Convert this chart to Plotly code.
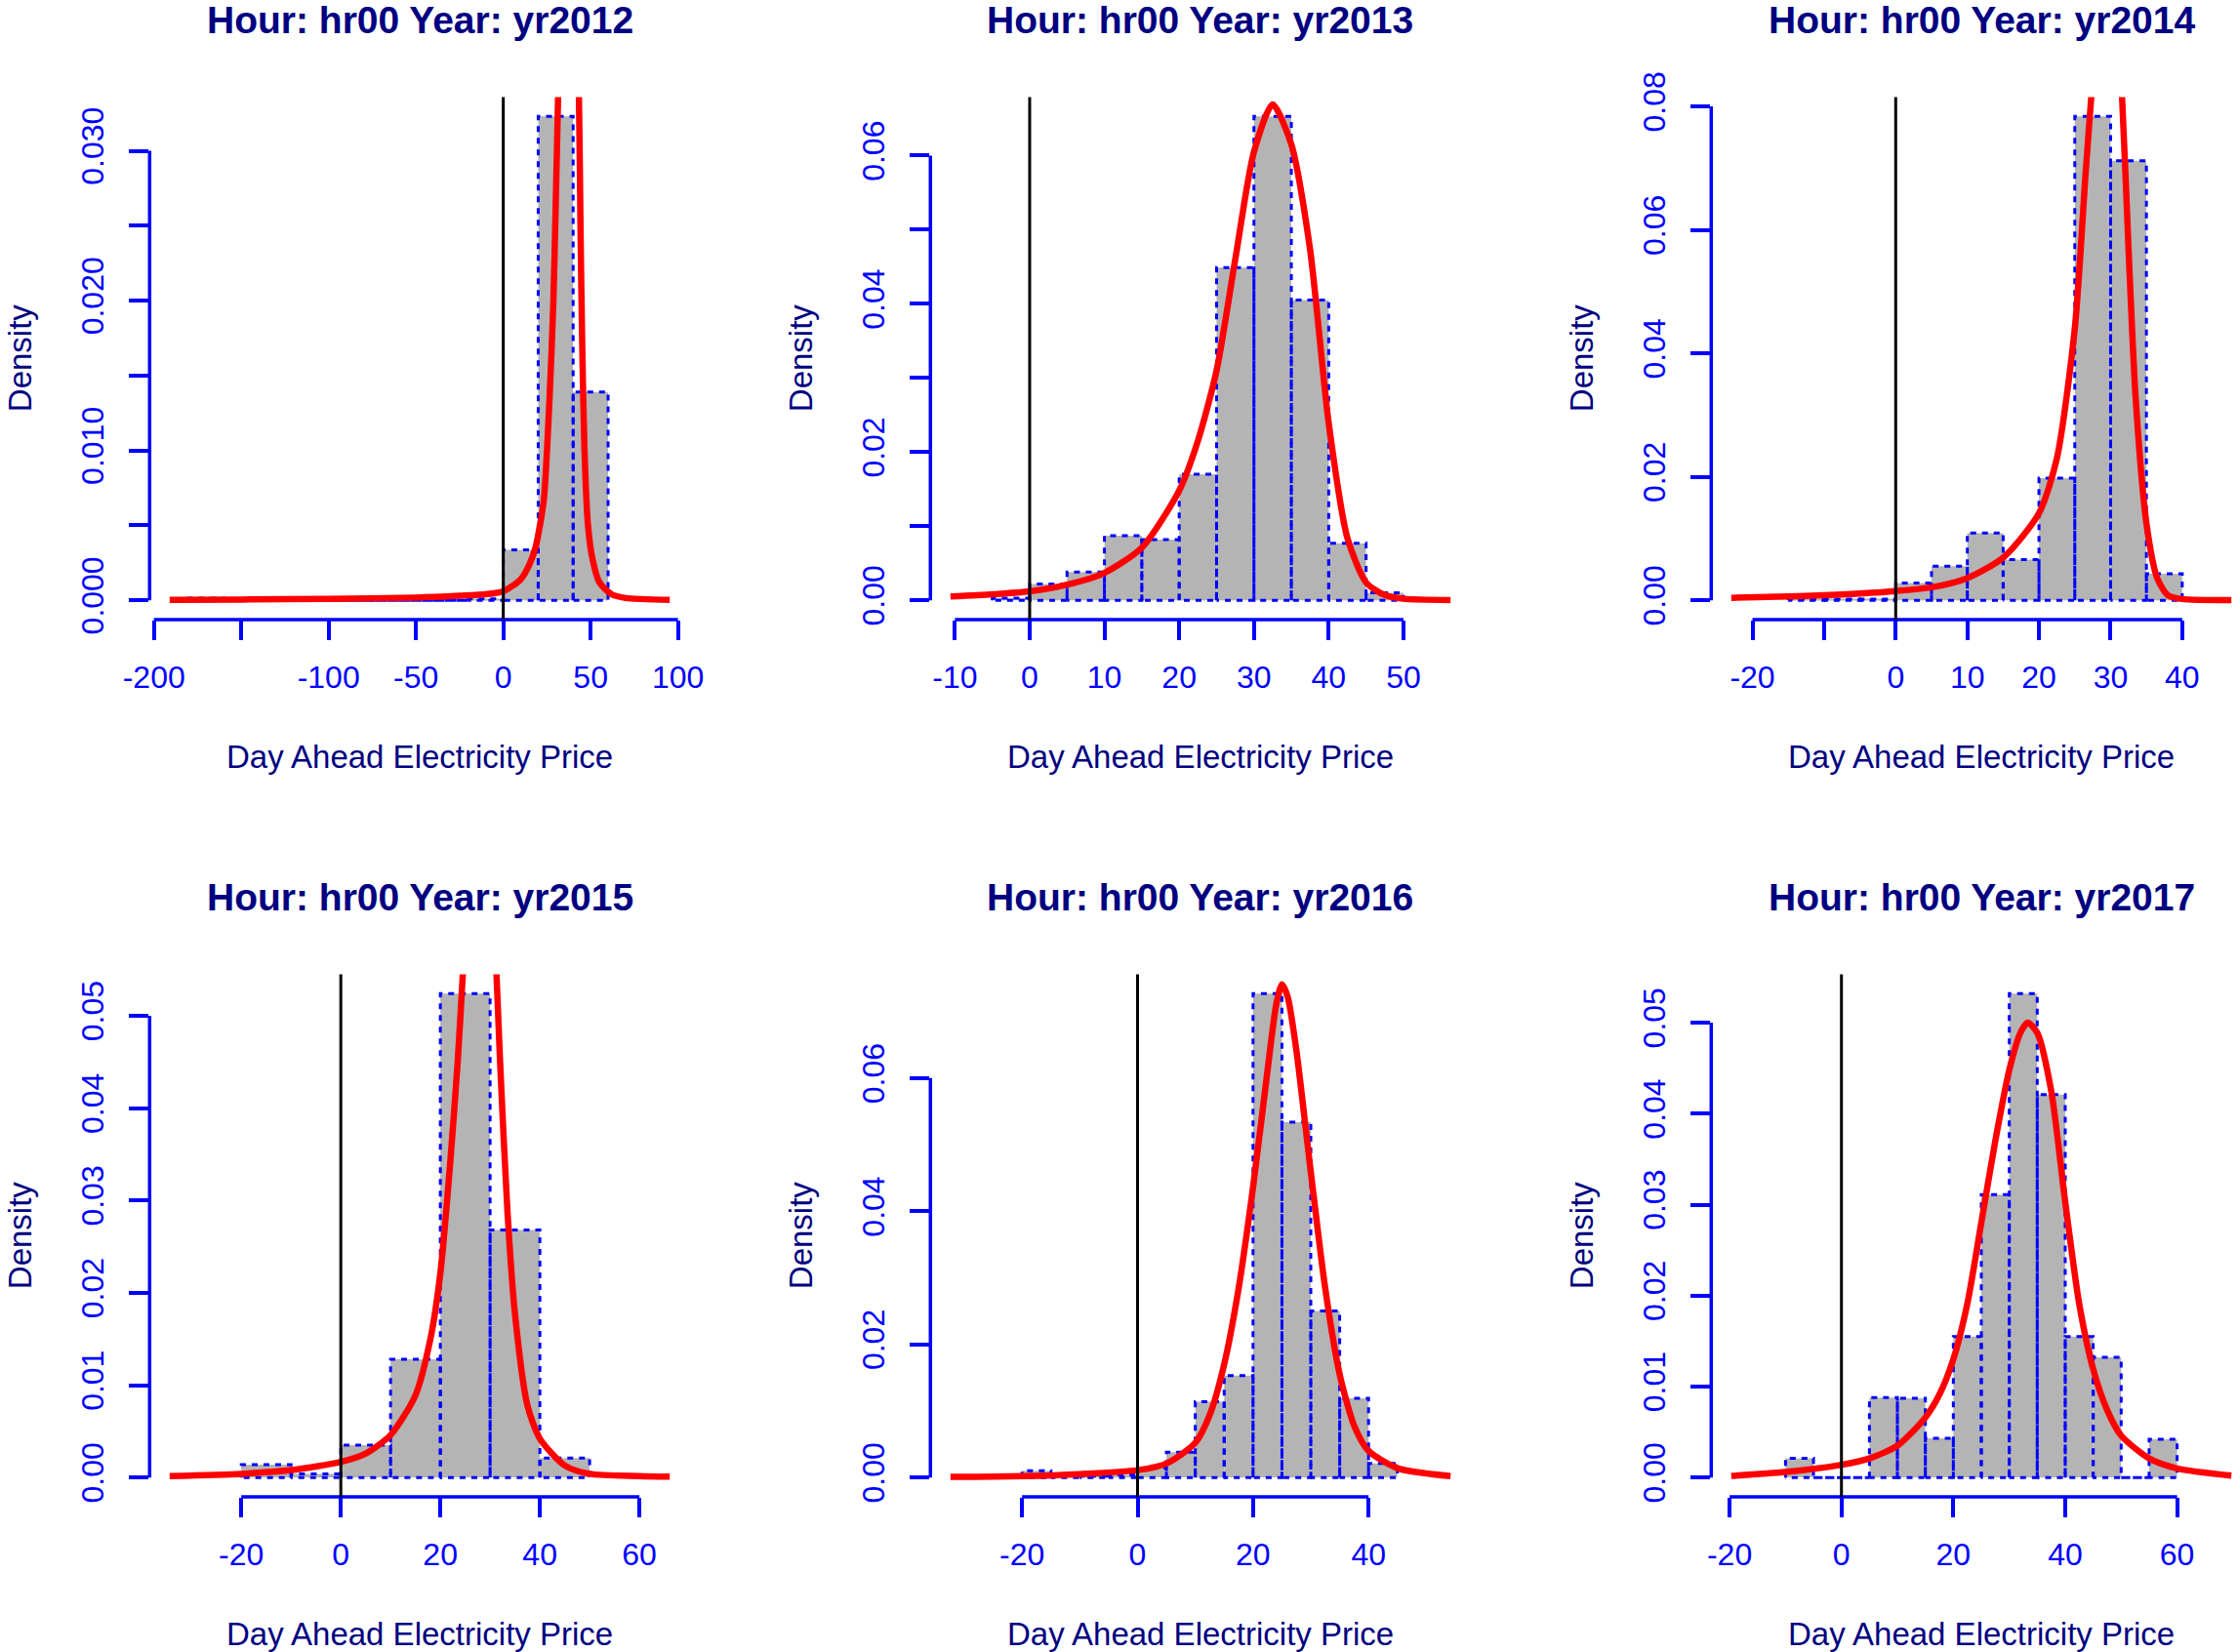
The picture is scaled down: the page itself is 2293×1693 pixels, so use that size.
import plotly.graph_objects as go

# ---------------- data ----------------
titles = ["Hour: hr00 Year: yr2012", "Hour: hr00 Year: yr2013", "Hour: hr00 Year: yr2014",
          "Hour: hr00 Year: yr2015", "Hour: hr00 Year: yr2016", "Hour: hr00 Year: yr2017"]

# histogram breaks and densities
breaks_2012 = [-180, -160, -140, -120, -100, -80, -60, -40, -20, 0, 20, 40, 60]
dens_2012 = [0.00014, 0, 0, 0, 0, 0, 0, 0, 0.0001, 0.00337, 0.0323, 0.0139]
breaks_2013 = [-5, 0, 5, 10, 15, 20, 25, 30, 35, 40, 45, 50]
dens_2013 = [0.0003, 0.0022, 0.0038, 0.0087, 0.0082, 0.0170, 0.0449, 0.0653, 0.0405, 0.0077, 0.0010]
breaks_2014 = [-15, -10, -5, 0, 5, 10, 15, 20, 25, 30, 35, 40]
dens_2014 = [0.0002, 0.0002, 0.0002, 0.0028, 0.0055, 0.0109, 0.0066, 0.0198, 0.0784, 0.0712, 0.0043]
breaks_2015 = [-20, -10, 0, 10, 20, 30, 40, 50]
dens_2015 = [0.0014, 0.0004, 0.0035, 0.0128, 0.0524, 0.0268, 0.0021]
breaks_2016 = [-20, -15, -10, -5, 0, 5, 10, 15, 20, 25, 30, 35, 40, 45]
dens_2016 = [0.0010, 0.0004, 0.0002, 0.0004, 0.0014, 0.0038, 0.0114, 0.0153, 0.0727, 0.0534, 0.0250, 0.0119, 0.0021]
breaks_2017 = [-10, -5, 0, 5, 10, 15, 20, 25, 30, 35, 40, 45, 50, 55, 60]
dens_2017 = [0.0021, 0, 0, 0.0088, 0.0087, 0.0043, 0.0155, 0.0311, 0.0532, 0.0421, 0.0155, 0.0132, 0, 0.0042]

# fitted density curves
curve_x_2012 = [-191, -150, -100, -50, -25, -10, 0, 10, 15, 18.4, 21, 23.3, 26.5, 28.7, 30.1, 31.4, 33.5, 37,
                40.5, 43.3, 44.2, 45.2, 46.5, 48.5, 51, 55, 62, 70, 95.3]
curve_y_2012 = [0.00003, 0.00005, 0.0001, 0.00018, 0.0003, 0.0004, 0.0006, 0.0014, 0.0024, 0.0035, 0.005, 0.0068,
                0.0135, 0.02, 0.0268, 0.0337, 0.046, 0.055, 0.046, 0.0337, 0.025, 0.017, 0.010, 0.005, 0.0028,
                0.0012, 0.0004, 0.00015, 0.00003]
curve_x_2013 = [-10.6, -5, 0, 5, 10, 15, 20, 22.5, 25, 27.5, 30, 32.5, 35, 37.5, 40, 42.5, 45, 47.5, 50, 56.3]
curve_y_2013 = [0.0005, 0.0008, 0.0012, 0.0021, 0.0037, 0.0071, 0.0148, 0.0215, 0.031, 0.046, 0.0605, 0.0669,
                0.0615, 0.0474, 0.0239, 0.0084, 0.0024, 0.0007, 0.0002, 0.00003]
curve_x_2014 = [-22.96, -15, -10, -5, 0, 5, 10, 15, 20, 22.5, 25, 26.5, 27.3, 28.5, 29.5, 30.5, 31.6, 32.5, 33.5,
                35, 36.5, 38, 40, 46.86]
curve_y_2014 = [0.0004, 0.0006, 0.0008, 0.0011, 0.0015, 0.0021, 0.0036, 0.0069, 0.0141, 0.023, 0.044, 0.069,
                0.0815, 0.1, 0.105, 0.1, 0.0815, 0.057, 0.0327, 0.0125, 0.0036, 0.0008, 0.0002, 0.00002]
curve_x_2015 = [-34.4, -20, -10, 0, 5, 10, 15, 18, 20, 22, 23.5, 24.5, 26, 28, 30, 31.3, 32, 33.5, 35, 37.5, 40,
                45, 50, 60, 66.1]
curve_y_2015 = [0.00016, 0.0004, 0.0008, 0.0017, 0.0026, 0.0046, 0.0089, 0.015, 0.0221, 0.0342, 0.0451, 0.0543,
                0.068, 0.075, 0.068, 0.0543, 0.0451, 0.0287, 0.0177, 0.0078, 0.0042, 0.0013, 0.0004, 0.00016,
                0.0001]
curve_x_2016 = [-32.4, -20, -10, 0, 5, 10, 12.5, 15, 17.5, 20, 22.5, 24, 25, 26, 27.5, 30, 32.5, 35, 37.5, 40,
                45, 50, 54.2]
curve_y_2016 = [0.0001, 0.0002, 0.0005, 0.0011, 0.0021, 0.0052, 0.0094, 0.017, 0.0284, 0.0436, 0.0611, 0.071,
                0.0741, 0.0722, 0.0642, 0.0459, 0.0284, 0.0155, 0.0078, 0.004, 0.0014, 0.0006, 0.0002]
curve_x_2017 = [-19.7, -10, 0, 5, 10, 15, 17.5, 20, 22.5, 25, 27.5, 30, 32, 33.3, 35, 37.5, 40, 42.5, 45, 47.5,
                50, 55, 60, 69.7]
curve_y_2017 = [0.00017, 0.0006, 0.0014, 0.0021, 0.0035, 0.0066, 0.0091, 0.013, 0.0191, 0.028, 0.037, 0.0448,
                0.0489, 0.05, 0.0489, 0.0425, 0.0303, 0.0191, 0.0119, 0.0074, 0.0046, 0.0021, 0.001, 0.0002]

# tick values and labels
xticks_2012 = [-200, -150, -100, -50, 0, 50, 100]
xlabels_2012 = ["-200", "", "-100", "-50", "0", "50", "100"]
xticks_2013 = [-10, 0, 10, 20, 30, 40, 50]
xlabels_2013 = ["-10", "0", "10", "20", "30", "40", "50"]
xticks_2014 = [-20, -10, 0, 10, 20, 30, 40]
xlabels_2014 = ["-20", "", "0", "10", "20", "30", "40"]
xticks_2015 = [-20, 0, 20, 40, 60]
xlabels_2015 = ["-20", "0", "20", "40", "60"]
xticks_2016 = [-20, 0, 20, 40]
xlabels_2016 = ["-20", "0", "20", "40"]
xticks_2017 = [-20, 0, 20, 40, 60]
xlabels_2017 = ["-20", "0", "20", "40", "60"]

yticks_2012 = [0, 0.005, 0.010, 0.015, 0.020, 0.025, 0.030]
ylabels_2012 = ["0.000", "", "0.010", "", "0.020", "", "0.030"]
yticks_2013 = [0, 0.01, 0.02, 0.03, 0.04, 0.05, 0.06]
ylabels_2013 = ["0.00", "", "0.02", "", "0.04", "", "0.06"]
yticks_2014 = [0, 0.02, 0.04, 0.06, 0.08]
ylabels_2014 = ["0.00", "0.02", "0.04", "0.06", "0.08"]
yticks_2015 = [0, 0.01, 0.02, 0.03, 0.04, 0.05]
ylabels_2015 = ["0.00", "0.01", "0.02", "0.03", "0.04", "0.05"]
yticks_2016 = [0, 0.02, 0.04, 0.06]
ylabels_2016 = ["0.00", "0.02", "0.04", "0.06"]
yticks_2017 = [0, 0.01, 0.02, 0.03, 0.04, 0.05]
ylabels_2017 = ["0.00", "0.01", "0.02", "0.03", "0.04", "0.05"]

x_title = "Day Ahead Electricity Price"
y_title = "Density"

panels = [
    (breaks_2012, dens_2012, curve_x_2012, curve_y_2012, xticks_2012, xlabels_2012, yticks_2012, ylabels_2012),
    (breaks_2013, dens_2013, curve_x_2013, curve_y_2013, xticks_2013, xlabels_2013, yticks_2013, ylabels_2013),
    (breaks_2014, dens_2014, curve_x_2014, curve_y_2014, xticks_2014, xlabels_2014, yticks_2014, ylabels_2014),
    (breaks_2015, dens_2015, curve_x_2015, curve_y_2015, xticks_2015, xlabels_2015, yticks_2015, ylabels_2015),
    (breaks_2016, dens_2016, curve_x_2016, curve_y_2016, xticks_2016, xlabels_2016, yticks_2016, ylabels_2016),
    (breaks_2017, dens_2017, curve_x_2017, curve_y_2017, xticks_2017, xlabels_2017, yticks_2017, ylabels_2017),
]

# ---------------- layout / style ----------------
W, H = 2293, 1693
COL_STEP, ROW_STEP = 800, 899
PLOT_L, PLOT_R, PLOT_T, PLOT_B = 153.3, 706.7, 99.4, 635.0
FONT = "Liberation Sans, Arial, Helvetica, sans-serif"
BLUE = "#0000FF"
NAVY = "#000080"
GRAY = "#B4B4B4"

fig = go.Figure()
layout = dict(template="none", width=W, height=H, autosize=False,
              margin=dict(l=0, r=0, t=0, b=0, pad=0, autoexpand=False),
              paper_bgcolor="white", plot_bgcolor="white", showlegend=False,
              barmode="overlay", font=dict(family=FONT))
shapes, annotations = [], []

for i, (brk, dens, cx, cy, xt, xl, yt, yl) in enumerate(panels):
    r, c = divmod(i, 3)
    sfx = "" if i == 0 else str(i + 1)
    xa, ya = "x" + sfx, "y" + sfx

    lefts, rights = brk[:-1], brk[1:]
    centers = [(a + b) / 2 for a, b in zip(lefts, rights)]
    widths = [b - a for a, b in zip(lefts, rights)]
    fig.add_trace(go.Bar(x=centers, y=dens, width=widths, marker=dict(color=GRAY, line=dict(width=0)),
                         xaxis=xa, yaxis=ya, hoverinfo="skip"))
    ox, oy = [], []
    for a, b, h in zip(lefts, rights, dens):
        ox += [a, a, b, b, a, None]
        oy += [0, h, h, 0, 0, None]
    fig.add_trace(go.Scatter(x=ox, y=oy, mode="lines", xaxis=xa, yaxis=ya, hoverinfo="skip",
                             line=dict(color=BLUE, width=3, dash="6px,6px")))
    fig.add_trace(go.Scatter(x=cx, y=cy, mode="lines", xaxis=xa, yaxis=ya,
                             line=dict(color="#FF0000", width=6.5, shape="spline", smoothing=0.7)))

    # R-style ranges: 4% padding around data
    a0, b0 = cx[0], cx[-1]
    span = b0 - a0
    xr = [a0 - 0.04 * span, b0 + 0.04 * span]
    ymax = max(dens)
    yr = [-0.04 * ymax, 1.04 * ymax]

    x0px, x1px = PLOT_L + c * COL_STEP, PLOT_R + c * COL_STEP
    if x1px > W:
        xr[1] = xr[0] + (xr[1] - xr[0]) * (W - x0px) / (x1px - x0px)
        x1px = W
    t_px, b_px = PLOT_T + r * ROW_STEP, PLOT_B + r * ROW_STEP

    layout["xaxis" + sfx] = dict(domain=[x0px / W, x1px / W], range=xr, anchor=ya, automargin=False,
                                 showgrid=False, zeroline=False, showline=False,
                                 tickmode="array", tickvals=xt, ticktext=xl,
                                 ticks="outside", ticklen=20, tickwidth=3.5, tickcolor=BLUE,
                                 tickfont=dict(family=FONT, size=32, color=BLUE),
                                 ticklabelstandoff=11)
    layout["yaxis" + sfx] = dict(domain=[1 - b_px / H, 1 - t_px / H], range=yr, anchor=xa, automargin=False,
                                 showgrid=False, zeroline=False, showline=False,
                                 tickmode="array", tickvals=yt, ticktext=yl, tickangle=-90,
                                 ticks="outside", ticklen=20, tickwidth=3.5, tickcolor=BLUE,
                                 tickfont=dict(family=FONT, size=32, color=BLUE),
                                 ticklabelstandoff=14)

    # axis lines spanning first..last tick (R style)
    shapes.append(dict(type="line", xref=xa, yref=ya + " domain", x0=xt[0], x1=xt[-1], y0=0, y1=0,
                       line=dict(color=BLUE, width=3.5)))
    shapes.append(dict(type="line", xref=xa + " domain", yref=ya, x0=0, x1=0, y0=yt[0], y1=yt[-1],
                       line=dict(color=BLUE, width=3.5)))
    # vertical reference line at 0
    shapes.append(dict(type="line", xref=xa, yref=ya + " domain", x0=0, x1=0, y0=0, y1=1,
                       line=dict(color="black", width=3)))

    cxp = (PLOT_L + PLOT_R) / 2 + c * COL_STEP
    cyp = (t_px + b_px) / 2
    annotations.append(dict(text="<b>" + titles[i] + "</b>", xref="paper", yref="paper",
                            x=cxp / W, y=1 - (20.5 + r * ROW_STEP) / H, xanchor="center", yanchor="middle",
                            showarrow=False, font=dict(family=FONT, size=39, color=NAVY)))
    annotations.append(dict(text=x_title, xref="paper", yref="paper",
                            x=cxp / W, y=1 - (775 + r * ROW_STEP) / H, xanchor="center", yanchor="middle",
                            showarrow=False, font=dict(family=FONT, size=33, color=NAVY)))
    annotations.append(dict(text=y_title, xref="paper", yref="paper", textangle=-90,
                            x=(20 + c * COL_STEP) / W, y=1 - cyp / H, xanchor="center", yanchor="middle",
                            showarrow=False, font=dict(family=FONT, size=33, color=NAVY)))

layout["shapes"] = shapes
layout["annotations"] = annotations
fig.update_layout(**layout)

fig.write_html("out.html", config={"displayModeBar": False},
               post_script="document.body.style.margin='0';document.body.style.overflow='hidden';")
